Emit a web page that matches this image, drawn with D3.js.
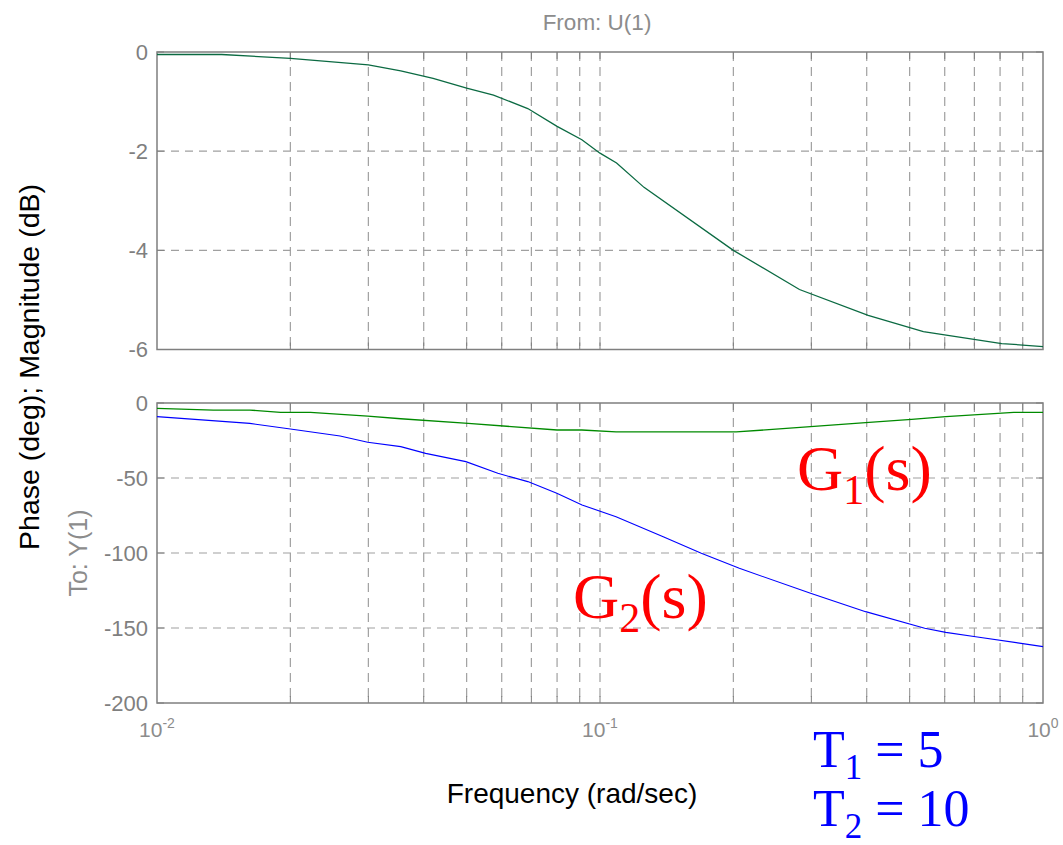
<!DOCTYPE html>
<html>
<head>
<meta charset="utf-8">
<script src="https://cdn.jsdelivr.net/npm/d3@7"></script>
<style>
  body { margin: 0; background: #fff; }
  svg { display: block; }
</style>
</head>
<body>
<div id="vis-container"></div>
<script>
// values
var magFreq = [0.01, 0.014, 0.02, 0.03, 0.0355, 0.042, 0.05, 0.0575, 0.0687, 0.08, 0.091, 0.1, 0.109, 0.1257, 0.2, 0.282, 0.403, 0.537, 0.807, 1.0];
var magDb   = [-0.05, -0.05, -0.13, -0.26, -0.38, -0.53, -0.73, -0.87, -1.14, -1.5, -1.77, -2.04, -2.24, -2.73, -4.0, -4.79, -5.31, -5.64, -5.88, -5.94];

var g1Freq  = [0.01, 0.0134, 0.0162, 0.019, 0.0222, 0.0299, 0.0355, 0.0504, 0.08, 0.091, 0.1087, 0.203, 0.2987, 0.3977, 0.5053, 0.6033, 0.859, 1.0];
var g1Phase = [-3.6, -4.7, -4.7, -6.2, -6.2, -8.7, -10.5, -13.6, -18, -18, -19.3, -19.3, -15.8, -13.1, -10.9, -9.1, -6.2, -6.2];

var g2Freq  = [0.01, 0.0162, 0.02, 0.0259, 0.0299, 0.0355, 0.0404, 0.0498, 0.0588, 0.0687, 0.0799, 0.0911, 0.1087, 0.1389, 0.1693, 0.2063, 0.2987, 0.3977, 0.5408, 0.6033, 0.7047, 1.0];
var g2Phase = [-9.1, -13.6, -17.3, -22, -26.2, -29.1, -33.6, -39.1, -46.9, -52.4, -60.2, -68, -75.8, -89.1, -100.2, -110.2, -126.9, -139.1, -150.2, -152.9, -155.8, -162.4];

var magTicks = [0, -2, -4, -6];
var phaseTicks = [0, -50, -100, -150, -200];
var decades = [-2, -1, 0];

var axisGray = "#7f7f7f";
var gridGray = "#a0a0a0";
var sans = "Liberation Sans, Arial, sans-serif";
var serif = "Liberation Serif, Times New Roman, serif";

var svg = d3.select("#vis-container").append("svg")
    .attr("width", 1063)
    .attr("height", 845);

var x = d3.scaleLog().domain([0.01, 1]).range([157, 1043]);
var yMag = d3.scaleLinear().domain([0, -6]).range([52, 349.5]);
var yPh = d3.scaleLinear().domain([0, -200]).range([403, 703]);

// minor + major frequency grid positions
var xGrid = [];
[0.01, 0.1].forEach(function(base) {
    for (var k = 2; k <= 9; k++) xGrid.push(base * k);
});
xGrid.push(0.1);

var drawPanel = function(y, yTicks, showX) {
    var top = y.range()[0], bottom = y.range()[1];
    var left = x.range()[0], right = x.range()[1];
    var g = svg.append("g");

    // grid
    g.selectAll(".vg").data(xGrid).enter().append("line")
        .attr("x1", function(d) { return x(d); })
        .attr("x2", function(d) { return x(d); })
        .attr("y1", top).attr("y2", bottom)
        .attr("stroke", gridGray).attr("stroke-width", 1.2)
        .attr("stroke-dasharray", "9,6");
    g.selectAll(".hg").data(yTicks.slice(1, -1)).enter().append("line")
        .attr("x1", left).attr("x2", right)
        .attr("y1", function(d) { return y(d); })
        .attr("y2", function(d) { return y(d); })
        .attr("stroke", gridGray).attr("stroke-width", 1.2)
        .attr("stroke-dasharray", "8,6");

    // tick marks inside
    g.selectAll(".tb").data(xGrid).enter().append("path")
        .attr("d", function(d) {
            return "M" + x(d) + "," + bottom + "v-7M" + x(d) + "," + top + "v7";
        })
        .attr("stroke", axisGray).attr("stroke-width", 1);
    g.selectAll(".tl").data(yTicks).enter().append("path")
        .attr("d", function(d) {
            return "M" + left + "," + y(d) + "h7M" + right + "," + y(d) + "h-7";
        })
        .attr("stroke", axisGray).attr("stroke-width", 1);

    // frame
    g.append("rect")
        .attr("x", left).attr("y", top)
        .attr("width", right - left).attr("height", bottom - top)
        .attr("fill", "none").attr("stroke", axisGray).attr("stroke-width", 1.5);

    // y tick labels (plain hyphen like the original)
    g.append("g")
        .attr("transform", "translate(" + left + ",0)")
        .call(d3.axisLeft(y).tickValues(yTicks).tickSize(0).tickPadding(9)
            .tickFormat(function(d) { return String(d); }))
        .call(function(a) {
            a.select(".domain").remove();
            a.selectAll("text")
                .attr("fill", axisGray)
                .style("font-family", sans)
                .style("font-size", "22px");
        });

    if (showX) {
        var lab = g.selectAll(".xl").data(decades).enter().append("text")
            .attr("x", function(d) { return x(Math.pow(10, d)); })
            .attr("y", 737)
            .attr("text-anchor", "middle")
            .attr("fill", "#8c8c8c")
            .style("font-family", sans)
            .style("font-size", "21px");
        lab.append("tspan").text("10");
        lab.append("tspan").attr("dy", -9).style("font-size", "14px")
            .text(function(d) { return String(d); });
    }
};

drawPanel(yMag, magTicks, false);
drawPanel(yPh, phaseTicks, true);

var zip = function(fs, vs) {
    return fs.map(function(f, i) { return [f, vs[i]]; });
};

var lineMag = d3.line().x(function(d) { return x(d[0]); }).y(function(d) { return yMag(d[1]); });
var linePh = d3.line().x(function(d) { return x(d[0]); }).y(function(d) { return yPh(d[1]); });

svg.append("path").datum(zip(magFreq, magDb))
    .attr("d", lineMag).attr("fill", "none")
    .attr("stroke", "#0b6a42").attr("stroke-width", 1.3);
svg.append("path").datum(zip(g1Freq, g1Phase))
    .attr("d", linePh).attr("fill", "none")
    .attr("stroke", "#008a00").attr("stroke-width", 1.3);
svg.append("path").datum(zip(g2Freq, g2Phase))
    .attr("d", linePh).attr("fill", "none")
    .attr("stroke", "#0000ff").attr("stroke-width", 1.1);

// titles and axis labels
svg.append("text").attr("x", 597).attr("y", 30).attr("text-anchor", "middle")
    .attr("fill", "#8c8c8c").style("font-family", sans).style("font-size", "22.5px")
    .text("From: U(1)");
svg.append("text").attr("transform", "translate(39,367) rotate(-90)").attr("text-anchor", "middle")
    .attr("fill", "#000").style("font-family", sans).style("font-size", "28.5px")
    .text("Phase (deg); Magnitude (dB)");
svg.append("text").attr("transform", "translate(87,553) rotate(-90)").attr("text-anchor", "middle")
    .attr("fill", "#8c8c8c").style("font-family", sans).style("font-size", "25px")
    .text("To: Y(1)");
svg.append("text").attr("x", 572).attr("y", 803).attr("text-anchor", "middle")
    .attr("fill", "#000").style("font-family", sans).style("font-size", "28px")
    .text("Frequency (rad/sec)");

// annotations
var annot = function(px, py, main, sub, rest, color, size, subSize, drop) {
    var t = svg.append("text").attr("x", px).attr("y", py)
        .attr("fill", color).style("font-family", serif).style("font-size", size + "px");
    t.append("tspan").text(main);
    t.append("tspan").attr("dy", drop).style("font-size", subSize + "px").text(sub);
    t.append("tspan").attr("dy", -drop).text(rest);
};
annot(797, 490, "G", "1", "(s)", "#ff0000", 64, 42, 14);
annot(573, 618, "G", "2", "(s)", "#ff0000", 64, 42, 14);
annot(813, 767, "T", "1", " = 5", "#0000ff", 52, 35, 12);
annot(813, 826, "T", "2", " = 10", "#0000ff", 52, 35, 12);
</script>
</body>
</html>
